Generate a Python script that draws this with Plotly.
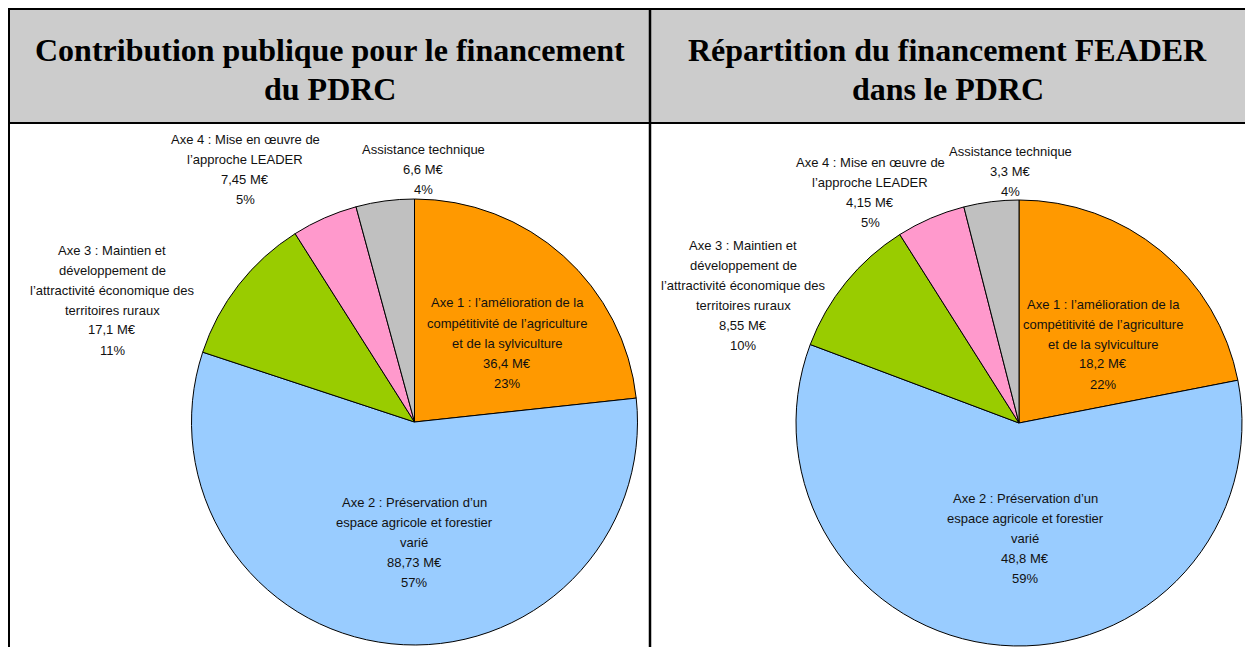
import plotly.graph_objects as go

# ---------------- data ----------------
categories = ["Axe 1", "Axe 2", "Axe 3", "Axe 4", "Assistance technique"]
label_lines = [
    ["Axe 1 : l’amélioration de la", "compétitivité de l’agriculture", "et de la sylviculture"],
    ["Axe 2 : Préservation d’un", "espace agricole et forestier", "varié"],
    ["Axe 3 : Maintien et", "développement de", "l’attractivité économique des", "territoires ruraux"],
    ["Axe 4 : Mise en œuvre de", "l’approche LEADER"],
    ["Assistance technique"],
]
values_public = [36.4, 88.73, 17.1, 7.45, 6.6]
values_feader = [18.2, 48.8, 8.55, 4.15, 3.3]
titles = [
    ["Contribution publique pour le financement", "du PDRC"],
    ["Répartition du financement FEADER", "dans le PDRC"],
]
colors = ["#FF9900", "#99CCFF", "#99CC00", "#FF99CC", "#C0C0C0"]

# ---------------- layout geometry (pixels) ----------------
W, H = 1245, 647
# label anchor (center x, first-line center y) in pixels, per panel & slice
label_pos_left = [(507, 303), (414, 502), (112, 250), (245, 139), (423, 149)]
label_pos_right = [(1103, 304), (1025, 498), (743, 245), (870, 162), (1010, 151)]
pie_domains_px = [((191.5, 637.5), (199, 645)), ((796, 1242), (200, 646))]
title_centers_x = [329.5, 947.5]
title_line_y = [50, 89]
LINE_H = 20


def px(x):
    return x / W


def py(y):
    return 1 - y / H


def fmt(v):
    return f"{v:g}".replace(".", ",") + " M€"


fig = go.Figure()
annotations = []

for values, dom, lpos in [
    (values_public, pie_domains_px[0], label_pos_left),
    (values_feader, pie_domains_px[1], label_pos_right),
]:
    (x0, x1), (y0, y1) = dom
    fig.add_trace(
        go.Pie(
            labels=categories,
            values=values,
            sort=False,
            direction="clockwise",
            rotation=0,
            textinfo="none",
            hoverinfo="label+value+percent",
            marker=dict(colors=colors, line=dict(color="#000000", width=1)),
            domain=dict(x=[px(x0), px(x1)], y=[py(y1), py(y0)]),
            showlegend=False,
        )
    )
    total = sum(values)
    for lines, v, (cx, cy) in zip(label_lines, values, lpos):
        full = lines + [fmt(v), f"{round(100 * v / total)}%"]
        for i, t in enumerate(full):
            annotations.append(
                dict(
                    text=t,
                    x=px(cx),
                    y=py(cy + i * LINE_H),
                    xref="paper",
                    yref="paper",
                    xanchor="center",
                    yanchor="middle",
                    showarrow=False,
                    font=dict(family="Liberation Sans, Arial", size=13, color="#111111"),
                )
            )

for tlines, cx in zip(titles, title_centers_x):
    for t, ty in zip(tlines, title_line_y):
        annotations.append(
            dict(
                text=f"<b>{t}</b>",
                x=px(cx),
                y=py(ty),
                xref="paper",
                yref="paper",
                xanchor="center",
                yanchor="middle",
                showarrow=False,
                font=dict(family="Liberation Serif, Times New Roman", size=32, color="#000000"),
            )
        )

shapes = [
    dict(type="rect", xref="paper", yref="paper", x0=px(9), x1=px(W + 5), y0=py(123), y1=py(9),
         fillcolor="#CCCCCC", line=dict(width=0), layer="below"),
    dict(type="line", xref="paper", yref="paper", x0=px(8), x1=px(W + 5), y0=py(9), y1=py(9),
         line=dict(color="#000000", width=2)),
    dict(type="line", xref="paper", yref="paper", x0=px(8), x1=px(W + 5), y0=py(123), y1=py(123),
         line=dict(color="#000000", width=2)),
    dict(type="line", xref="paper", yref="paper", x0=px(9), x1=px(9), y0=py(8), y1=py(H + 5),
         line=dict(color="#000000", width=2)),
    dict(type="line", xref="paper", yref="paper", x0=px(650), x1=px(650), y0=py(8), y1=py(H + 5),
         line=dict(color="#000000", width=2.5)),
]

fig.update_layout(
    width=W,
    height=H,
    margin=dict(l=0, r=0, t=0, b=0),
    paper_bgcolor="#FFFFFF",
    plot_bgcolor="#FFFFFF",
    annotations=annotations,
    shapes=shapes,
)

fig.write_html(
    "out.html",
    config={"displayModeBar": False},
    post_script="document.body.style.margin='0';document.body.style.overflow='hidden';",
)
